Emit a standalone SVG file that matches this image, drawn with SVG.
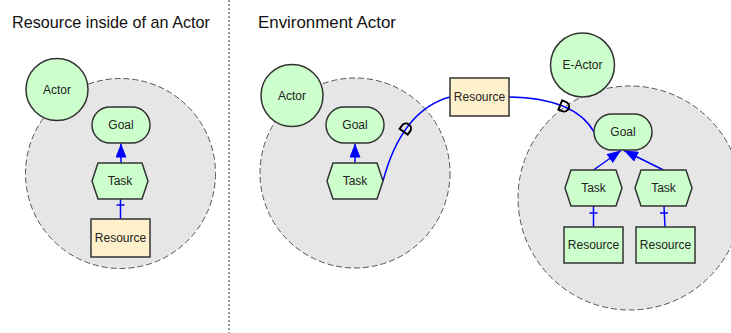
<svg xmlns="http://www.w3.org/2000/svg" width="731" height="333" viewBox="0 0 731 333">
<defs>
<marker id="arr" markerUnits="userSpaceOnUse" markerWidth="14" markerHeight="11" refX="14" refY="5.5" orient="auto">
<path d="M0,0 L14,5.5 L0,11 Z" fill="#0000FF"/>
</marker>
</defs>
<style>
.title{font-family:"Liberation Sans",Arial,sans-serif;font-size:17px;fill:#111}
.lbl{font-family:"Liberation Sans",Arial,sans-serif;font-size:12px;fill:#222;text-anchor:middle}
.bnd{fill:#E6E6E6;stroke:#555;stroke-width:1;stroke-dasharray:6,3}
.act{fill:#CCFFCC;stroke:#333;stroke-width:1.5}
.gn{fill:#CCFFCC;stroke:#333;stroke-width:1.5}
.res{fill:#FFF0CC;stroke:#333;stroke-width:1.5}
.resg{fill:#CCFFCC;stroke:#333;stroke-width:1.5}
.ln{fill:none;stroke:#0000FF;stroke-width:1.5}
.dm{fill:none;stroke:#000;stroke-width:2}
</style>
<rect width="731" height="333" fill="#FFFFFF"/>
<text class="title" x="12" y="28" textLength="198" lengthAdjust="spacingAndGlyphs">Resource inside of an Actor</text>
<text class="title" x="258" y="28" textLength="138" lengthAdjust="spacingAndGlyphs">Environment Actor</text>
<line x1="229" y1="0" x2="229" y2="333" stroke="#777" stroke-width="1.5" stroke-dasharray="2,2"/>

<g id="boundary-left"><circle class="bnd" cx="120.5" cy="173.5" r="95"/></g>
<g id="boundary-mid"><circle class="bnd" cx="355" cy="173" r="95"/></g>
<g id="boundary-right"><circle class="bnd" cx="630" cy="198" r="112"/></g>

<g id="actor-left"><circle class="act" cx="57" cy="89.5" r="31"/><text class="lbl" x="57" y="93.5">Actor</text></g>
<g id="actor-mid"><circle class="act" cx="292" cy="95.5" r="31"/><text class="lbl" x="292" y="99.5">Actor</text></g>
<g id="e-actor"><circle class="act" cx="582.5" cy="65" r="32"/><text class="lbl" x="582.5" y="69">E-Actor</text></g>

<g id="connectors">
<line class="ln" x1="121" y1="163" x2="121" y2="143.5" marker-end="url(#arr)"/>
<line class="ln" x1="120.5" y1="219" x2="120.5" y2="199"/>
<line x1="116.5" y1="205" x2="124.5" y2="205" stroke="#0000FF" stroke-width="1.5"/>

<line class="ln" x1="355" y1="163" x2="355" y2="143.5" marker-end="url(#arr)"/>
<path class="ln" d="M383,181 Q402,110 450,97"/>
<path class="ln" d="M509,97 Q575,98 594,132"/>
<path class="dm" d="M-4,-5 L0,-5 A5,5 0 0 1 0,5 L-4,5 Z" transform="translate(406,128.5) rotate(-54)"/>
<path class="dm" d="M-4,-5 L0,-5 A5,5 0 0 1 0,5 L-4,5 Z" transform="translate(564,106.5) rotate(22)"/>

<line class="ln" x1="593.5" y1="170" x2="621" y2="150.5" marker-end="url(#arr)"/>
<line class="ln" x1="663.5" y1="170" x2="624" y2="150.5" marker-end="url(#arr)"/>
<line class="ln" x1="593.5" y1="227" x2="593.5" y2="206"/>
<line x1="589.5" y1="213" x2="597.5" y2="213" stroke="#0000FF" stroke-width="1.5"/>
<line class="ln" x1="665" y1="227" x2="664" y2="206"/>
<line x1="660" y1="213" x2="668" y2="213" stroke="#0000FF" stroke-width="1.5"/>
</g>

<g id="goal-left"><rect class="gn" x="92" y="107" width="58" height="36" rx="18"/><text class="lbl" x="121" y="129">Goal</text></g>
<g id="task-left"><polygon class="gn" points="92,181 98,163 142,163 148,181 142,199 98,199"/><text class="lbl" x="120" y="185">Task</text></g>
<g id="resource-left"><rect class="res" x="91" y="219" width="59" height="38"/><text class="lbl" x="120.5" y="242">Resource</text></g>

<g id="goal-mid"><rect class="gn" x="326" y="107" width="58" height="36" rx="18"/><text class="lbl" x="355" y="129">Goal</text></g>
<g id="task-mid"><polygon class="gn" points="327,181 333,163 377,163 383,181 377,199 333,199"/><text class="lbl" x="355" y="185">Task</text></g>
<g id="resource-env"><rect class="res" x="450" y="78" width="59" height="38"/><text class="lbl" x="479.5" y="101">Resource</text></g>

<g id="goal-right"><rect class="gn" x="594" y="114" width="58" height="36" rx="18"/><text class="lbl" x="623" y="136">Goal</text></g>
<g id="task-right-1"><polygon class="gn" points="565,188 571,170 616,170 622,188 616,206 571,206"/><text class="lbl" x="593.5" y="192">Task</text></g>
<g id="task-right-2"><polygon class="gn" points="635,188 641,170 686,170 692,188 686,206 641,206"/><text class="lbl" x="663.5" y="192">Task</text></g>
<g id="resource-right-1"><rect class="resg" x="564" y="227" width="59" height="36"/><text class="lbl" x="593.5" y="249">Resource</text></g>
<g id="resource-right-2"><rect class="resg" x="636" y="227" width="59" height="36"/><text class="lbl" x="665.5" y="249">Resource</text></g>
</svg>
